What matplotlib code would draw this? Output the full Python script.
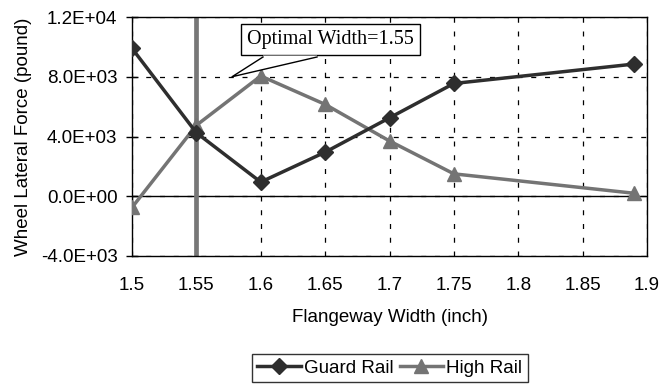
import matplotlib
matplotlib.use("Agg")
import matplotlib.pyplot as plt
from matplotlib.ticker import FuncFormatter
from matplotlib.patches import Polygon
from matplotlib.lines import Line2D

width = [1.5, 1.55, 1.6, 1.65, 1.7, 1.75, 1.89]
guard_rail = [9900, 4250, 950, 2950, 5250, 7550, 8850]
high_rail = [-750, 4750, 8050, 6150, 3700, 1500, 200]
optimal = 1.55
x_ticks = [1.5, 1.55, 1.6, 1.65, 1.7, 1.75, 1.8, 1.85, 1.9]
y_ticks = [-4000, 0, 4000, 8000, 12000]
callout_tip = (1.5777, 8000)

plt.rcParams['font.family'] = ['Liberation Sans', 'DejaVu Sans']
FS = 13.5

fig = plt.figure(figsize=(6.61, 3.87), dpi=100)
L, R, T, B = 132, 647, 17, 256
ax = fig.add_axes([L / 661, 1 - B / 387, (R - L) / 661, (B - T) / 387])

ax.set_xlim(1.5, 1.9)
ax.set_ylim(-4000, 12000)
ax.set_xticks(x_ticks)
ax.set_xticklabels([f"{v:g}" for v in x_ticks])
ax.set_yticks(y_ticks)
ax.yaxis.set_major_formatter(FuncFormatter(lambda v, p: f"{v:.1E}"))

ax.grid(True, color='black', linestyle=(0, (4, 7)), linewidth=0.9)
ax.set_axisbelow(True)
ax.axhline(0, color='black', lw=1.0, zorder=1.5)
ax.tick_params(axis='x', length=0, pad=15, labelsize=FS)
ax.tick_params(axis='y', length=9, width=1, labelsize=FS, direction='inout', pad=6)
for s in ax.spines.values():
    s.set_linewidth(1.0)

ax.axvline(optimal, color='#777777', lw=3.4, zorder=2)

ax.plot(width, guard_rail, color='#2e2e2e', lw=2.5, marker='D', markersize=8,
        label='Guard Rail', zorder=4)
ax.plot(width, high_rail, color='#747474', lw=2.5, marker='^', markersize=10,
        label='High Rail', zorder=3)

# annotation box
ax.text(1.654, 10520, 'Optimal Width=1.55', fontsize=14.5,
        family=['Liberation Serif', 'DejaVu Serif'], ha='center', va='center',
        bbox=dict(boxstyle='square,pad=0.3', fc='white', ec='black', lw=1.0),
        zorder=6)
# callout wedge
tip = ax.transAxes.inverted().transform(ax.transData.transform(callout_tip))
by = (B - 57) / (B - T)
bl = (263 - L) / (R - L)
br = (317 - L) / (R - L)
ax.add_patch(Polygon([(bl, by + 0.006), (br, by + 0.006), (br, by), tuple(tip), (bl, by)],
                     closed=True, transform=ax.transAxes, fc='white', ec='none', zorder=7))
ax.add_line(Line2D([bl, tip[0], br], [by, tip[1], by], transform=ax.transAxes,
                   color='black', lw=1.0, zorder=8))

ax.set_xlabel('Flangeway Width (inch)', fontsize=FS, labelpad=11)
ax.set_ylabel('Wheel Lateral Force (pound)', fontsize=FS, labelpad=6)

leg = fig.legend(loc='upper center', bbox_to_anchor=(0.59, 1 - 354 / 387), ncol=2,
                 fontsize=FS, frameon=True, fancybox=False, edgecolor='black',
                 handlelength=2.3, handletextpad=0.2, columnspacing=0.3,
                 borderpad=0.3, borderaxespad=0)
leg.get_frame().set_linewidth(1.0)

fig.savefig('out.png', dpi=100)
